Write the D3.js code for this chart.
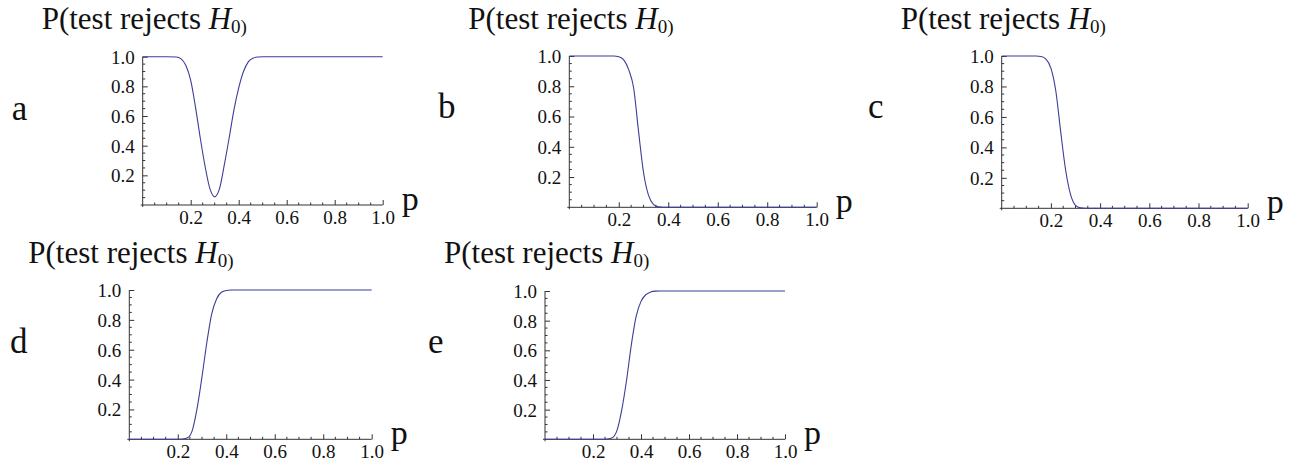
<!DOCTYPE html>
<html>
<head>
<meta charset="utf-8">
<script src="https://cdn.jsdelivr.net/npm/d3@7/dist/d3.min.js"></script>
<style>
  html, body { margin: 0; padding: 0; background: #fff; }
  svg { display: block; }
  svg text { font-family: "Times New Roman", "Liberation Serif", Tinos, "DejaVu Serif", serif; fill: #111; }
</style>
</head>
<body>
<svg id="chart" width="1292" height="465"></svg>
<script>
// ---- data ----
const panelLabels = ["a", "b", "c", "d", "e"];
const xTickValues = [0.2, 0.4, 0.6, 0.8, 1.0];
const yTickValues = [0.2, 0.4, 0.6, 0.8, 1.0];
const tickFormat = "0.1f";

const pA = [0, 0.10, 0.14, 0.16, 0.18, 0.20, 0.22, 0.24, 0.26, 0.28, 0.30, 0.32, 0.34, 0.36, 0.38, 0.40, 0.42, 0.44, 0.46, 0.48, 0.50, 1.0];
const vA = [1, 1, 0.998, 0.985, 0.94, 0.84, 0.66, 0.45, 0.26, 0.11, 0.055, 0.11, 0.27, 0.45, 0.64, 0.79, 0.90, 0.965, 0.99, 0.998, 1, 1];

const pB = [0, 0.18, 0.20, 0.22, 0.24, 0.26, 0.28, 0.30, 0.32, 0.34, 0.36, 0.38, 1.0];
const vB = [1, 1, 0.995, 0.975, 0.91, 0.79, 0.50, 0.23, 0.08, 0.02, 0.003, 0, 0];

const pC = [0, 0.14, 0.16, 0.18, 0.20, 0.22, 0.24, 0.26, 0.28, 0.30, 0.32, 0.34, 1.0];
const vC = [1, 1, 0.997, 0.98, 0.92, 0.77, 0.50, 0.25, 0.09, 0.02, 0.003, 0, 0];

const pD = [0, 0.20, 0.22, 0.24, 0.26, 0.28, 0.30, 0.32, 0.34, 0.36, 0.38, 0.40, 0.42, 1.0];
const vD = [0, 0, 0.002, 0.01, 0.06, 0.21, 0.42, 0.65, 0.84, 0.94, 0.985, 0.997, 1, 1];

const pE = [0, 0.24, 0.26, 0.28, 0.30, 0.32, 0.34, 0.36, 0.38, 0.40, 0.42, 0.44, 0.46, 0.48, 1.0];
const vE = [0, 0, 0.002, 0.01, 0.06, 0.20, 0.40, 0.64, 0.83, 0.93, 0.975, 0.993, 0.999, 1, 1];

const seriesP = [pA, pB, pC, pD, pE];
const seriesV = [vA, vB, vC, vD, vE];

// ---- layout ----
const layout = [
  { x0: 142.7, x1: 382.7, y0: 205.0, y1: 56.7, titleY: 29.3, lx: 11.7, ly: 120 },
  { x0: 569.3, x1: 816.7, y0: 207.3, y1: 56.0, titleY: 29.3, lx: 438, ly: 118 },
  { x0: 1001.7, x1: 1247.7, y0: 208.3, y1: 56.0, titleY: 29.3, lx: 868, ly: 118 },
  { x0: 129.3, x1: 371.7, y0: 439.3, y1: 290.0, titleY: 263.3, lx: 10, ly: 353 },
  { x0: 545.0, x1: 785.0, y0: 439.3, y1: 291.0, titleY: 263.3, lx: 428, ly: 353 }
];

const svg = d3.select("#chart");
const fmt = d3.format(tickFormat);
const axisColor = "#333";
const lineColor = "#3d3d99";
const FONT = '"Times New Roman", "Liberation Serif", Tinos, "DejaVu Serif", serif';

layout.forEach((L, i) => {
  const x = d3.scaleLinear().domain([0, 1]).range([L.x0, L.x1]);
  const y = d3.scaleLinear().domain([0, 1]).range([L.y0, L.y1]);
  const g = svg.append("g");

  // x axis (ticks inward = upward)
  const xMinor = d3.range(0, 1.0001, 0.05).filter(v => Math.abs(v / 0.2 - Math.round(v / 0.2)) > 1e-6);
  const gx = g.append("g").attr("transform", `translate(0,${L.y0})`)
    .call(d3.axisBottom(x).tickValues(xTickValues).tickFormat(fmt).tickSizeInner(-5).tickSizeOuter(0).tickPadding(0));
  gx.attr("font-family", null).attr("font-size", null);
  gx.select(".domain").remove();
  gx.selectAll(".tick line").attr("stroke", axisColor);
  gx.selectAll(".tick text").attr("y", 19).attr("dy", null)
    .style("font-family", FONT).style("font-size", "19px").attr("fill", "#111");
  g.append("g").selectAll("line").data(xMinor).join("line")
    .attr("x1", d => x(d)).attr("x2", d => x(d))
    .attr("y1", L.y0).attr("y2", L.y0 - 2.5)
    .attr("stroke", axisColor).attr("stroke-width", 1);
  g.append("line").attr("x1", L.x0 - 2).attr("x2", L.x1).attr("y1", L.y0).attr("y2", L.y0)
    .attr("stroke", axisColor).attr("stroke-width", 1);

  // y axis (ticks inward = rightward)
  const yMinor = d3.range(0, 1.0001, 0.05).filter(v => Math.abs(v / 0.2 - Math.round(v / 0.2)) > 1e-6);
  const gy = g.append("g").attr("transform", `translate(${L.x0},0)`)
    .call(d3.axisLeft(y).tickValues(yTickValues).tickFormat(fmt).tickSizeInner(-5).tickSizeOuter(0).tickPadding(0));
  gy.attr("font-family", null).attr("font-size", null);
  gy.select(".domain").remove();
  gy.selectAll(".tick line").attr("stroke", axisColor);
  gy.selectAll(".tick text").attr("x", -8).attr("dy", "0.34em")
    .style("font-family", FONT).style("font-size", "19px").attr("fill", "#111");
  g.append("g").selectAll("line").data(yMinor).join("line")
    .attr("x1", L.x0).attr("x2", L.x0 + 2.5)
    .attr("y1", d => y(d)).attr("y2", d => y(d))
    .attr("stroke", axisColor).attr("stroke-width", 1);
  g.append("line").attr("x1", L.x0).attr("x2", L.x0).attr("y1", L.y0 + 2).attr("y2", L.y1)
    .attr("stroke", axisColor).attr("stroke-width", 1);

  // curve
  const pts = seriesP[i].map((p, k) => [p, seriesV[i][k]]);
  g.append("path").datum(pts)
    .attr("fill", "none").attr("stroke", lineColor).attr("stroke-width", 1.1)
    .attr("d", d3.line().x(d => x(d[0])).y(d => y(d[1])).curve(d3.curveMonotoneX));

  // title
  const t = g.append("text").attr("x", L.x0 - 101).attr("y", L.titleY)
    .style("font-family", FONT).style("font-size", "31px");
  t.append("tspan").text("P(test rejects ");
  t.append("tspan").style("font-style", "italic").text("H");
  t.append("tspan").style("font-size", "19px").attr("dy", 4).text("0)");

  // axis label p
  g.append("text").attr("x", L.x1 + 19).attr("y", L.y0 + 5)
    .style("font-family", FONT).style("font-size", "34px").text("p");

  // panel letter
  g.append("text").attr("x", L.lx).attr("y", L.ly)
    .style("font-family", FONT).style("font-size", "35px").text(panelLabels[i]);
});
</script>
</body>
</html>
